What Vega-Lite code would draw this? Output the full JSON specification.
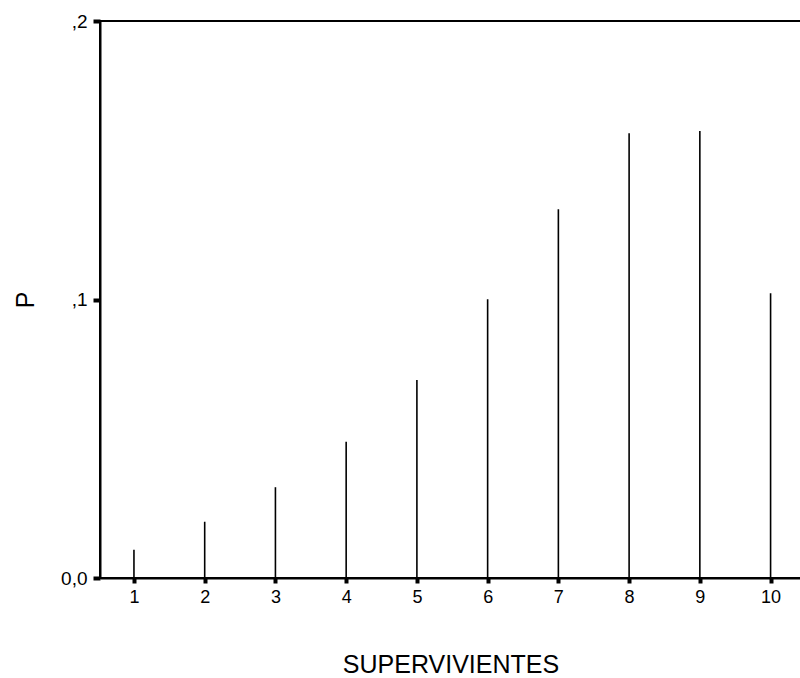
{
  "$schema": "https://vega.github.io/schema/vega-lite/v6.json",
  "autosize": "none",
  "width": 701,
  "height": 557,
  "padding": {"left": 100, "top": 21, "right": 0, "bottom": 100},
  "background": "white",
  "config": {
    "font": "Liberation Sans",
    "view": {"stroke": "black", "strokeWidth": 2},
    "axis": {"grid": false, "domainColor": "black", "domainWidth": 2, "tickColor": "black", "labelColor": "black", "titleColor": "black", "titleFontWeight": "normal"}
  },
  "data": {
    "values": [
      {"supervivientes": 1, "p": 0.0101},
      {"supervivientes": 2, "p": 0.0202},
      {"supervivientes": 3, "p": 0.0326},
      {"supervivientes": 4, "p": 0.0489},
      {"supervivientes": 5, "p": 0.0711},
      {"supervivientes": 6, "p": 0.1001},
      {"supervivientes": 7, "p": 0.1324},
      {"supervivientes": 8, "p": 0.1597},
      {"supervivientes": 9, "p": 0.1605},
      {"supervivientes": 10, "p": 0.1022}
    ]
  },
  "mark": {"type": "rule", "color": "black", "strokeWidth": 1.6},
  "encoding": {
    "x": {
      "field": "supervivientes", "type": "quantitative",
      "scale": {"domain": [0.52, 10.43], "nice": false, "zero": false},
      "axis": {"title": "SUPERVIVIENTES", "values": [1,2,3,4,5,6,7,8,9,10], "format": "d", "labelFontSize": 18, "titleFontSize": 25, "tickSize": 5, "tickWidth": 4, "labelPadding": 5, "titlePadding": 46}
    },
    "y": {
      "field": "p", "type": "quantitative",
      "scale": {"domain": [0, 0.2], "nice": false},
      "axis": {"title": "P", "values": [0, 0.1, 0.2], "labelExpr": "datum.value == 0 ? '0,0' : (datum.value < 0.15 ? ',1' : ',2')", "labelFontSize": 19, "titleFontSize": 25, "tickSize": 7, "tickWidth": 4, "labelPadding": 6, "titlePadding": 22, "titleAngle": -90}
    },
    "y2": {"datum": 0}
  }
}
